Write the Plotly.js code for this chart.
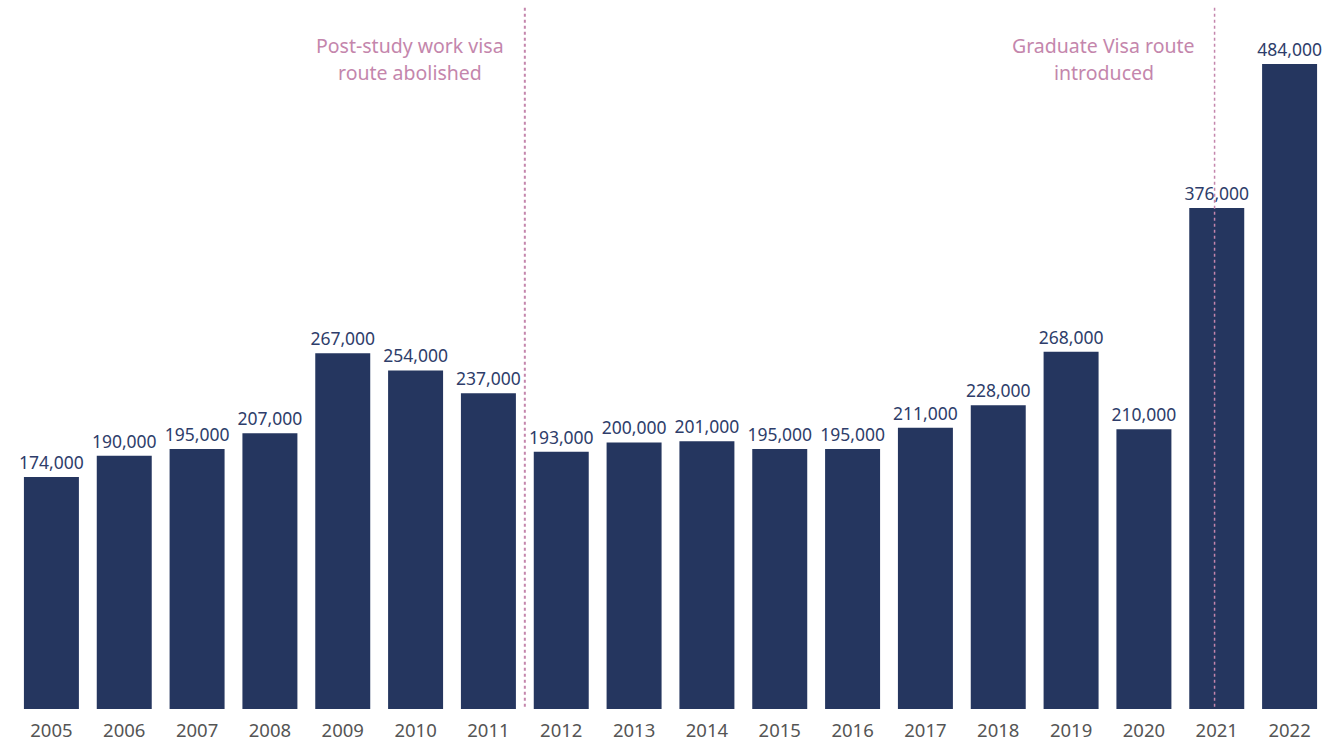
<!DOCTYPE html>
<html>
<head>
<meta charset="utf-8">
<script src="https://cdn.plot.ly/plotly-3.0.1.min.js"></script>
<style>
html,body{margin:0;padding:0;background:#fff;}
#chart{width:1328px;height:744px;}
</style>
</head>
<body>
<div id="chart"></div>
<script>
const years = ['2005','2006','2007','2008','2009','2010','2011','2012','2013','2014','2015','2016','2017','2018','2019','2020','2021','2022'];
const visas = [174000,190000,195000,207000,267000,254000,237000,193000,200000,201000,195000,195000,211000,228000,268000,210000,376000,484000];
const labels = visas.map(v => v.toLocaleString('en-GB'));

const barColor = '#25365f';
const noteColor = '#c486ac';
const font = 'Noto Sans, sans-serif';

const trace = {
  type: 'bar',
  x: years,
  y: visas,
  text: labels,
  textposition: 'outside',
  constraintext: 'none',
  textfont: {family: font, size: 17.5, color: '#2e3d6a'},
  cliponaxis: false,
  marker: {color: barColor},
  width: 0.755,
  hoverinfo: 'x+y'
};

const layout = {
  width: 1328, height: 744,
  margin: {l: 15, r: 2, t: 0, b: 35},
  paper_bgcolor: '#fff', plot_bgcolor: '#fff',
  showlegend: false,
  xaxis: {
    type: 'category',
    range: [-0.5, 17.5],
    showgrid: false, zeroline: false, showline: false,
    ticks: '',
    ticklabelstandoff: 8,
    tickfont: {family: font, size: 18.5, color: '#555555'}
  },
  yaxis: {
    range: [0, 532000],
    visible: false
  },
  shapes: [
    {type: 'line', xref: 'x', yref: 'paper', x0: 6.5, x1: 6.5, y0: 0.003, y1: 0.99,
     line: {color: noteColor, width: 2, dash: 'dot'}},
    {type: 'line', xref: 'x', yref: 'paper', x0: 15.97, x1: 15.97, y0: 0.003, y1: 0.99,
     line: {color: noteColor, width: 1.5, dash: 'dot'}}
  ],
  annotations: [
    {xref: 'x', yref: 'paper', x: 4.93, y: (709-45)/709, text: 'Post-study work visa', showarrow: false,
     font: {family: font, size: 19.5, color: noteColor}, xanchor: 'center', yanchor: 'middle'},
    {xref: 'x', yref: 'paper', x: 4.93, y: (709-73)/709, text: 'route abolished', showarrow: false,
     font: {family: font, size: 19.5, color: noteColor}, xanchor: 'center', yanchor: 'middle'},
    {xref: 'x', yref: 'paper', x: 14.45, y: (709-45)/709, text: 'Graduate Visa route', showarrow: false,
     font: {family: font, size: 19.5, color: noteColor}, xanchor: 'center', yanchor: 'middle'},
    {xref: 'x', yref: 'paper', x: 14.45, y: (709-73)/709, text: 'introduced', showarrow: false,
     font: {family: font, size: 19.5, color: noteColor}, xanchor: 'center', yanchor: 'middle'}
  ]
};

Plotly.newPlot('chart', [trace], layout, {displayModeBar: false, responsive: false});
</script>
</body>
</html>
